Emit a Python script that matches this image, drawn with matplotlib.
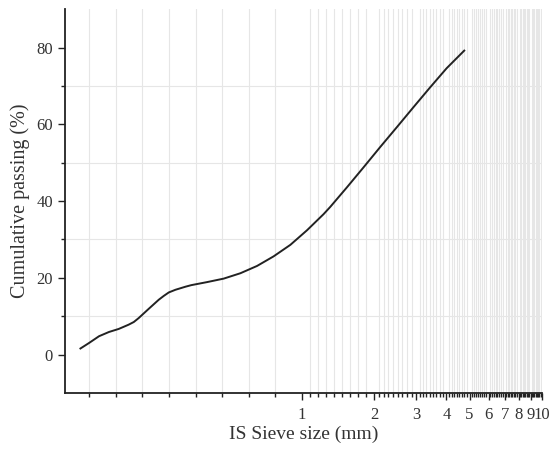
import numpy as np
import matplotlib
matplotlib.use('Agg')
import matplotlib.pyplot as plt
from matplotlib.ticker import FixedLocator, FixedFormatter, NullFormatter

# Sieve size (mm) and cumulative passing (%)
sieve_mm = [0.119, 0.129, 0.1423, 0.1565, 0.172, 0.189, 0.1987, 0.208, 0.229,
            0.2525, 0.265, 0.278, 0.2965, 0.3266, 0.345, 0.402, 0.471, 0.553,
            0.649, 0.761, 0.894, 1.049, 1.23, 1.312, 1.54, 1.806, 2.12, 2.49,
            2.92, 3.42, 4.01, 4.75]
passing = [1.6, 3.0, 4.8, 5.9, 6.7, 7.8, 8.5, 9.5, 11.9,
           14.3, 15.3, 16.2, 16.9, 17.7, 18.1, 18.9, 19.8, 21.2,
           23.1, 25.6, 28.6, 32.4, 36.6, 38.5, 43.6, 48.8, 54.1, 59.3,
           64.5, 69.6, 74.6, 79.2]

major_x = [0.1, 1, 2, 3, 4, 5, 6, 7, 8, 9, 10]
major_x_labels = ['', '1', '2', '3', '4', '5', '6', '7', '8', '9', '10']
y_ticks = [0, 20, 40, 60, 80]
y_minor = [10, 30, 50, 70]

# Origin style: 8 minor ticks evenly spaced (in display) between majors
minor_x = []
for a, b in zip(major_x[:-1], major_x[1:]):
    for k in range(1, 9):
        minor_x.append(a * (b / a) ** (k / 9))

plt.rcParams['font.family'] = 'Liberation Serif'

fig = plt.figure(figsize=(5.5, 4.57), dpi=100)
ax = fig.add_axes([0.118, 0.140, 0.867, 0.840])

ax.plot(sieve_mm, passing, color='#222222', linewidth=1.4)

ax.set_xscale('log')
ax.set_xlim(0.1025, 10)
ax.set_ylim(-10, 90)

ax.xaxis.set_major_locator(FixedLocator(major_x))
ax.xaxis.set_major_formatter(FixedFormatter(major_x_labels))
ax.xaxis.set_minor_locator(FixedLocator(minor_x))
ax.xaxis.set_minor_formatter(NullFormatter())
ax.set_yticks(y_ticks)
ax.yaxis.set_minor_locator(FixedLocator(y_minor))

ax.grid(False, which='major')
ax.grid(True, which='minor', color='#e6e6e6', linewidth=0.8)
ax.set_axisbelow(True)

ax.tick_params(axis='both', which='major', direction='out', length=5,
               width=1, colors='#222222', labelsize=12, labelcolor='#333333')
ax.tick_params(axis='x', which='major', pad=5)
ax.tick_params(axis='both', which='minor', direction='out', length=3, width=1,
               colors='#222222')

for side in ['top', 'right']:
    ax.spines[side].set_visible(False)
for side in ['left', 'bottom']:
    ax.spines[side].set_linewidth(1.3)
    ax.spines[side].set_color('#222222')

ax.set_xlabel('IS Sieve size (mm)', fontsize=14, color='#333333', labelpad=2)
ax.set_ylabel('Cumulative passing (%)', fontsize=14.5, color='#333333', labelpad=5)

fig.savefig('out.png', dpi=100)
